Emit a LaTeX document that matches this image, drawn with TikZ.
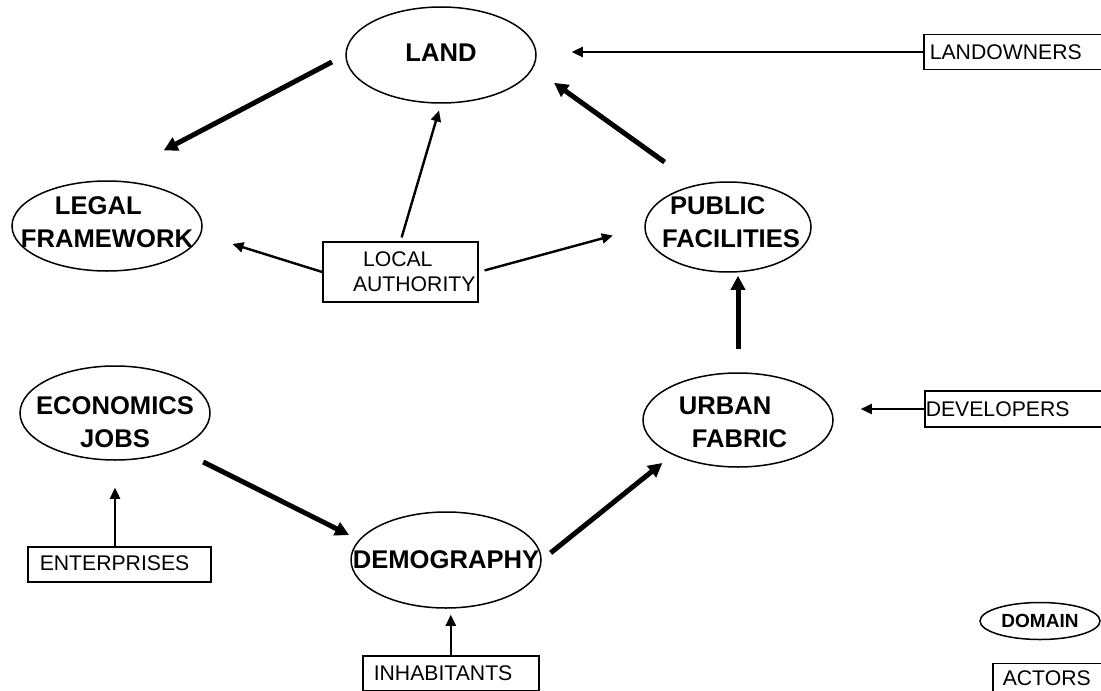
\documentclass[tikz,border=0pt]{standalone}
\usepackage{fontspec}
\setmainfont{Liberation Sans}
\usetikzlibrary{shapes.geometric}
\usetikzlibrary{arrows.meta}

\begin{document}
\begin{tikzpicture}[x=0.5pt, y=-0.5pt,
  dom/.style={draw, ellipse, line width=0.75pt, inner sep=0pt, minimum width=95pt, minimum height=47pt},
  domtext/.style={align=left, inner sep=0pt, font=\bfseries\fontsize{12.8}{16.5}\selectfont},
  actor/.style={draw, line width=0.75pt, font=\fontsize{10.6}{12.5}\selectfont},
  sidebox/.style={actor, anchor=west, minimum height=17.5pt, inner ysep=0pt, align=left},
  bigarrow/.style={line width=2.5pt, -{Triangle[length=7pt,width=7pt]}},
  smallarrow/.style={line width=1.2pt, -{Triangle[length=5.5pt,width=5pt]}}]
  \useasboundingbox (0,0) rectangle (1101,690);

  \node[dom, minimum height=48pt, label={[domtext, yshift=1.25pt]center:LAND}] (land) at (441,55) {};
  \node[dom, minimum height=45pt, label={[domtext, yshift=2pt]center:{\hspace*{17pt}LEGAL\\FRAMEWORK}}] (legal) at (107,226) {};
  \node[dom, minimum width=83pt, minimum height=45pt, label={[domtext, xshift=1.5pt, yshift=2.5pt]center:{\hspace*{4pt}PUBLIC\\FACILITIES}}] (public) at (728,227) {};
  \node[dom, label={[domtext, align=center, yshift=-4.5pt]center:{ECONOMICS\\JOBS}}] (econ) at (115,413) {};
  \node[dom, label={[domtext, xshift=-2.5pt, yshift=-1pt]center:{URBAN\\\hspace*{6.5pt}FABRIC}}] (urban) at (738,420) {};
  \node[dom, minimum height=48pt, label={[domtext]center:DEMOGRAPHY}] (demog) at (446,560) {};
  \node[dom, minimum width=60pt, minimum height=18.5pt, label={[domtext, font=\bfseries\fontsize{9.5}{11}\selectfont]center:DOMAIN}] (legend) at (1040,621) {};

  \node[actor, minimum width=77.5pt, minimum height=30pt, inner xsep=0pt, text width=77.5pt, align=left] (local) at (400.5,272) {\hspace*{20pt}LOCAL\\\hspace*{15pt}AUTHORITY};
  \node[sidebox, inner xsep=3pt, text width=100pt] (landowners) at (923,52) {LANDOWNERS};
  \node[sidebox, inner xsep=0.5pt, text width=100pt, minimum height=18pt] (developers) at (924,409) {DEVELOPERS};
  \node[sidebox, inner xsep=6pt, text width=79.5pt] (enterprises) at (27,564.5) {\raisebox{1.5pt}{ENTERPRISES}};
  \node[sidebox, inner xsep=5.5pt, text width=77pt] (inhabitants) at (362,673.5) {INHABITANTS};
  \node[sidebox, inner xsep=5pt, text width=60pt] (actors) at (992,681) {\raisebox{2.5pt}{ACTORS}};

  \draw[bigarrow, shorten <=7.5pt, shorten >=32pt] (land.west) -- (legal.north);
  \draw[bigarrow, shorten <=19.4pt, shorten >=12.75pt] (public.127) -- (land.352);
  \draw[bigarrow, shorten <=11.5pt, shorten >=1.5pt] (urban.north) -- (urban.north |- public.south);
  \draw[bigarrow, shorten <=14.3pt, shorten >=5.4pt] (econ.330) -- (demog.167);
  \draw[bigarrow, shorten <=5.7pt, shorten >=6.5pt] (demog.east) -- (urban.208);

  \draw[smallarrow, shorten <=2pt, shorten >=3.5pt] (local.north) -- (land.south);
  \draw[smallarrow, shorten >=16.4pt] (local.west) -- (legal.355);
  \draw[smallarrow, shorten <=3pt, shorten >=16.3pt] (local.east) -- (public.west);
  \draw[smallarrow, shorten >=17.5pt] (landowners.west) -- (landowners.west -| land.east);
  \draw[smallarrow, shorten >=13.5pt] (developers.west) -- (developers.west -| urban.east);
  \draw[smallarrow, shorten >=13.5pt] (econ.south |- enterprises.north) -- (econ.south);
  \draw[smallarrow, shorten >=3pt] (inhabitants.north) -- (inhabitants.north |- demog.south);
\end{tikzpicture}
\end{document}
